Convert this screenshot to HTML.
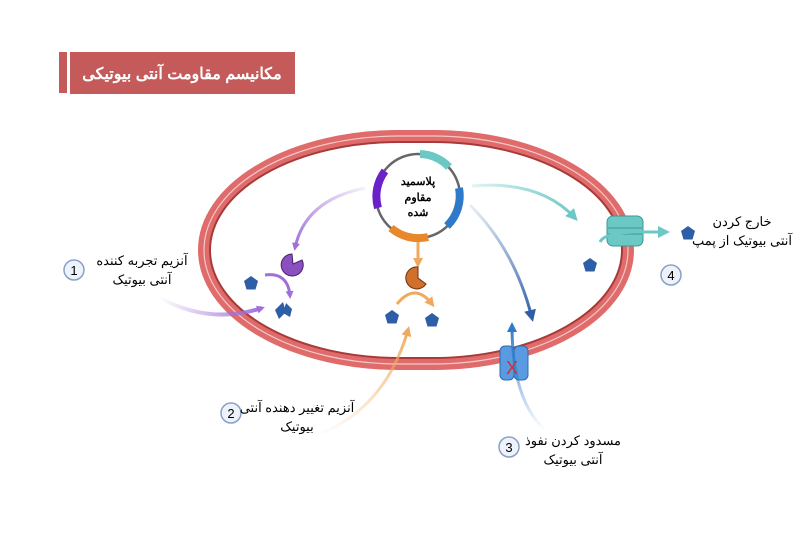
<!DOCTYPE html>
<html><head><meta charset="utf-8"><style>
body{margin:0;background:#fff;}
svg{display:block}
text{font-family:"Liberation Sans","Noto Sans CJK SC",sans-serif;}
</style></head><body>
<svg width="800" height="554" viewBox="0 0 800 554" xmlns="http://www.w3.org/2000/svg">
<defs>
<marker id="ap" markerWidth="8" markerHeight="8" refX="5" refY="4" orient="auto" markerUnits="userSpaceOnUse"><path d="M0,0 L8,4 L0,8 z" fill="#a070d8"/></marker>
<marker id="ao" markerWidth="10" markerHeight="10" refX="6" refY="5" orient="auto" markerUnits="userSpaceOnUse"><path d="M0,0 L10,5 L0,10 z" fill="#f0aa60"/></marker>
<marker id="at" markerWidth="12" markerHeight="12" refX="8" refY="6" orient="auto" markerUnits="userSpaceOnUse"><path d="M0,0 L12,6 L0,12 z" fill="#6cc8c4"/></marker>
<marker id="ab" markerWidth="12" markerHeight="12" refX="8" refY="6" orient="auto" markerUnits="userSpaceOnUse"><path d="M0,0 L12,6 L0,12 z" fill="#2f5ea8"/></marker>
<marker id="ab2" markerWidth="10" markerHeight="10" refX="6" refY="5" orient="auto" markerUnits="userSpaceOnUse"><path d="M0,0 L10,5 L0,10 z" fill="#2f7ac8"/></marker>
<linearGradient id="gp" x1="0" y1="0" x2="1" y2="0"><stop offset="0" stop-color="#a070d8" stop-opacity="0"/><stop offset="1" stop-color="#a070d8"/></linearGradient>
<linearGradient id="go" x1="0" y1="1" x2="0" y2="0"><stop offset="0" stop-color="#f0aa60" stop-opacity="0"/><stop offset="1" stop-color="#f0aa60"/></linearGradient>
<linearGradient id="gb" x1="0" y1="0" x2="0" y2="1"><stop offset="0" stop-color="#2f5ea8" stop-opacity="0.1"/><stop offset="1" stop-color="#2f5ea8"/></linearGradient>
<linearGradient id="gt" x1="0" y1="0" x2="1" y2="0"><stop offset="0" stop-color="#6cc8c4" stop-opacity="0.2"/><stop offset="1" stop-color="#6cc8c4"/></linearGradient>
<linearGradient id="gb3" x1="0" y1="1" x2="0" y2="0"><stop offset="0" stop-color="#2f7ac8" stop-opacity="0"/><stop offset="1" stop-color="#2f7ac8"/></linearGradient>
<linearGradient id="gpu" x1="1" y1="0" x2="0" y2="1"><stop offset="0" stop-color="#a070d8" stop-opacity="0.1"/><stop offset="1" stop-color="#a070d8"/></linearGradient>
<polygon id="pt" points="0,-7 7,-2 4.5,6.5 -4.5,6.5 -7,-2" fill="#2f5ea8"/>
</defs>
<!-- title -->
<rect x="59" y="52" width="8" height="41" fill="#c45a5a"/>
<rect x="70" y="52" width="225" height="42" fill="#c45a5a"/>
<text x="182" y="79" font-size="16" font-weight="bold" fill="#fff" text-anchor="middle" direction="rtl">مکانیسم مقاومت آنتی بیوتیکی</text>
<!-- membrane -->
<rect x="204" y="136" width="424" height="228" rx="195" ry="114" fill="none" stroke="#e06b6b" stroke-width="12"/>
<rect x="204" y="136" width="424" height="228" rx="195" ry="114" fill="none" stroke="#f6c8c8" stroke-width="1.2"/>
<rect x="210" y="142" width="412" height="216" rx="189" ry="108" fill="none" stroke="#a83a3a" stroke-width="2"/>
<!-- plasmid -->
<circle cx="418" cy="196" r="42" fill="none" stroke="#666" stroke-width="2.5"/>
<path d="M420,154 A42,42 0 0 1 449,167" stroke="#6cc8c4" stroke-width="8" fill="none"/>
<path d="M459,188 A42,42 0 0 1 447,226" stroke="#2f7ac8" stroke-width="8" fill="none"/>
<path d="M428,237 A42,42 0 0 1 391,228" stroke="#e8882a" stroke-width="8" fill="none"/>
<path d="M378,208 A42,42 0 0 1 385,171" stroke="#6a22c8" stroke-width="8" fill="none"/>
<text x="418" y="185" font-size="11" font-weight="bold" text-anchor="middle" direction="rtl">پلاسمید</text>
<text x="418" y="201" font-size="11" font-weight="bold" text-anchor="middle" direction="rtl">مقاوم</text>
<text x="418" y="216" font-size="11" font-weight="bold" text-anchor="middle" direction="rtl">شده</text>
<!-- purple -->
<path d="M365,188 Q305,200 295,248" stroke="url(#gpu)" stroke-width="3" fill="none" marker-end="url(#ap)"/>
<path d="M292,254 a11,11 0 1 0 10,6 l-9,4 z" fill="#8a50c0" stroke="#4a2070" stroke-width="1"/>
<path d="M265,275 Q288,272 290,296" stroke="#a070d8" stroke-width="3" fill="none" marker-end="url(#ap)"/>
<path d="M160,298 Q210,325 262,308" stroke="url(#gp)" stroke-width="4" fill="none" marker-end="url(#ap)"/>
<use href="#pt" x="251" y="283"/>
<polygon points="275,310 283,302 286,312 279,319" fill="#2f5ea8"/>
<polygon points="286,303 292,309 290,317 283,313" fill="#2f5ea8"/>
<!-- orange -->
<path d="M418,242 L418,264" stroke="#f0aa60" stroke-width="3" marker-end="url(#ao)"/>
<path d="M418,267 a11,11 0 1 0 8,17 l-8,-6 z" fill="#d0702a" stroke="#6a3010" stroke-width="1"/>
<path d="M397,304 Q415,282 432,304" stroke="#f0aa60" stroke-width="3" fill="none" marker-end="url(#ao)"/>
<path d="M315,436 Q385,410 408,330" stroke="url(#go)" stroke-width="3" fill="none" marker-end="url(#ao)"/>
<use href="#pt" x="392" y="317"/>
<use href="#pt" x="432" y="320"/>
<!-- blue down -->
<path d="M470,205 Q515,250 532,318" stroke="url(#gb)" stroke-width="3" fill="none" marker-end="url(#ab)"/>
<!-- blocked channel -->
<rect x="500" y="346" width="14" height="34" rx="5" fill="#5a9ae0" stroke="#2f6ab0"/>
<rect x="514" y="346" width="14" height="34" rx="5" fill="#5a9ae0" stroke="#2f6ab0"/>
<path d="M545,430 Q512,400 512,326" stroke="url(#gb3)" stroke-width="3" fill="none" marker-end="url(#ab2)"/>
<text x="512" y="374" font-size="18" fill="#d03030" text-anchor="middle">X</text>
<!-- teal pump -->
<path d="M472,186 Q540,180 575,218" stroke="url(#gt)" stroke-width="3" fill="none" marker-end="url(#at)"/>
<rect x="607" y="216" width="36" height="30" rx="6" fill="#6cc8c4" stroke="#3a9a96"/>
<line x1="608" y1="228" x2="642" y2="228" stroke="#3a9a96"/><line x1="608" y1="234" x2="642" y2="234" stroke="#3a9a96"/>
<path d="M600,242 Q605,232 640,232 L666,232" stroke="#6cc8c4" stroke-width="3" fill="none" marker-end="url(#at)"/>
<use href="#pt" x="590" y="265"/>
<use href="#pt" x="688" y="233"/>
<!-- labels -->
<circle cx="74" cy="270" r="10" fill="#eef3fb" stroke="#8aa0c8" stroke-width="1.5"/><text x="74" y="275" font-size="13" text-anchor="middle">1</text>
<text x="142" y="265" font-size="13" text-anchor="middle" direction="rtl">آنزیم تجربه کننده</text>
<text x="142" y="284" font-size="13" text-anchor="middle" direction="rtl">آنتی بیوتیک</text>
<circle cx="231" cy="413" r="10" fill="#eef3fb" stroke="#8aa0c8" stroke-width="1.5"/><text x="231" y="418" font-size="13" text-anchor="middle">2</text>
<text x="297" y="412" font-size="13" text-anchor="middle" direction="rtl">آنزیم تغییر دهنده آنتی</text>
<text x="297" y="431" font-size="13" text-anchor="middle" direction="rtl">بیوتیک</text>
<circle cx="509" cy="447" r="10" fill="#eef3fb" stroke="#8aa0c8" stroke-width="1.5"/><text x="509" y="452" font-size="13" text-anchor="middle">3</text>
<text x="573" y="445" font-size="13" text-anchor="middle" direction="rtl">مسدود کردن نفوذ</text>
<text x="573" y="464" font-size="13" text-anchor="middle" direction="rtl">آنتی بیوتیک</text>
<circle cx="671" cy="275" r="10" fill="#eef3fb" stroke="#8aa0c8" stroke-width="1.5"/><text x="671" y="280" font-size="13" text-anchor="middle">4</text>
<text x="742" y="226" font-size="13" text-anchor="middle" direction="rtl">خارج کردن</text>
<text x="742" y="245" font-size="13" text-anchor="middle" direction="rtl">آنتی بیوتیک از پمپ</text>
</svg>
</body></html>
